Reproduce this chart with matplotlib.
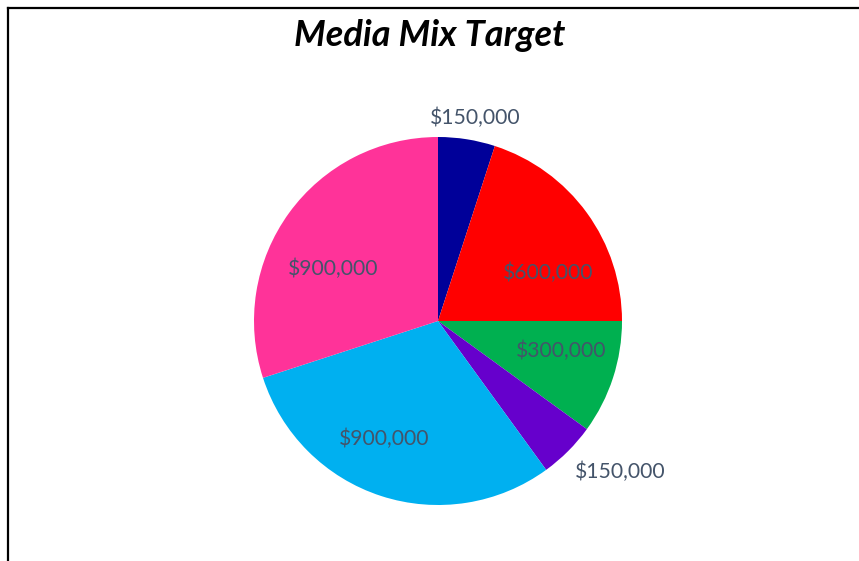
import matplotlib
matplotlib.use("Agg")
import matplotlib.pyplot as plt
from matplotlib.lines import Line2D

channels = ["A", "B", "C", "D", "E", "F"]
budgets = [150000, 600000, 300000, 150000, 900000, 900000]
colors = ["#000099", "#FF0000", "#00B050", "#6600CC", "#00B0F0", "#FF3399"]
# label centre positions, in units of the pie radius
label_pos = [(0.20, 1.105), (0.60, 0.26), (0.67, -0.16),
             (0.99, -0.82), (-0.29, -0.64), (-0.57, 0.285)]

W, H = 859, 561
fig = plt.figure(figsize=(W / 100, H / 100), dpi=100)
fig.patch.set_facecolor("white")

cx, cy, r = 438, 321, 184
ax = fig.add_axes([(cx - r) / W, (H - cy - r) / H, 2 * r / W, 2 * r / H])
wedges, texts = ax.pie(budgets, colors=colors, startangle=90, counterclock=False,
                       radius=1, labels=["${:,.0f}".format(v) for v in budgets],
                       wedgeprops=dict(linewidth=0))
for t, (x, y) in zip(texts, label_pos):
    t.set_position((x, y))
    t.set_ha("center")
    t.set_va("center")
    t.set_fontsize(15.2)
    t.set_color("#44546A")
    t.set_fontfamily("Lato")
ax.set_xlim(-1, 1)
ax.set_ylim(-1, 1)
ax.set_aspect("equal")
ax.axis("off")

fig.text(430 / W, 1 - 36 / H, "Media Mix Target", ha="center", va="center",
         fontsize=26, fontweight="bold", fontstyle="italic", family="Lato")

# chart frame (only left and top edges are visible)
fig.add_artist(Line2D([8.2 / W, 8.2 / W], [0, 1 - 8 / H], color="black", lw=1.6,
                      transform=fig.transFigure))
fig.add_artist(Line2D([8.2 / W, 1], [1 - 8 / H, 1 - 8 / H], color="black", lw=1.6,
                      transform=fig.transFigure))

fig.savefig("out.png", dpi=100)
